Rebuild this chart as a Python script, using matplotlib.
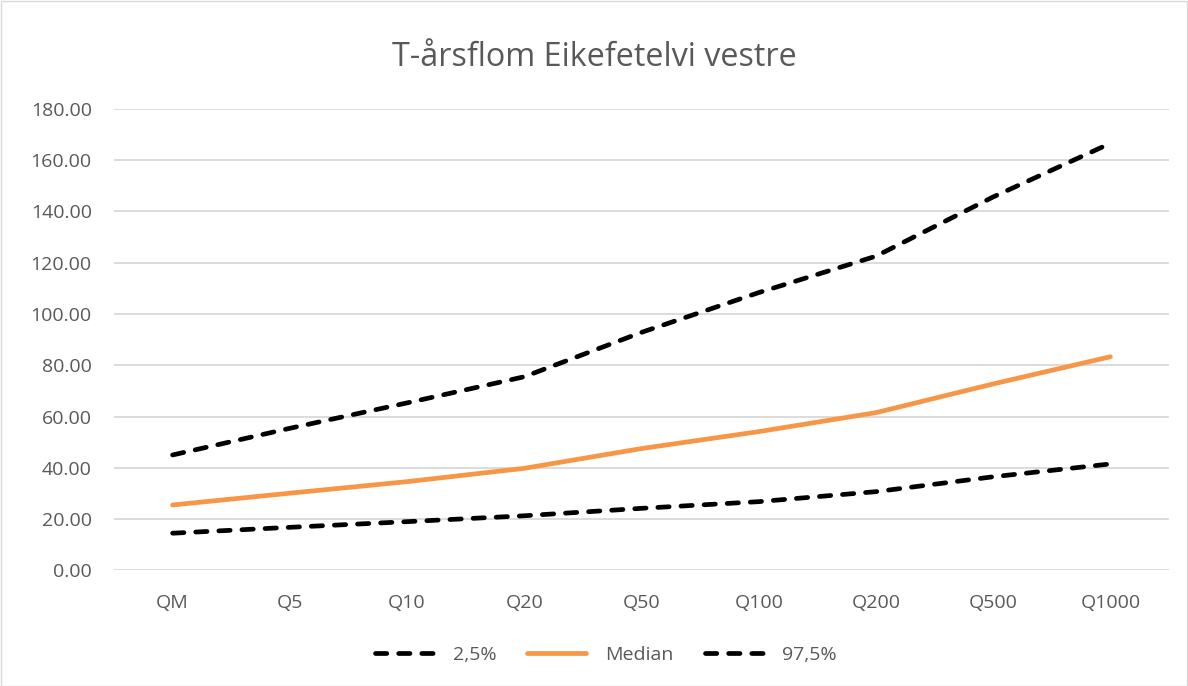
import matplotlib
matplotlib.use("Agg")
import matplotlib.pyplot as plt
from matplotlib.patches import Rectangle

categories = ["QM", "Q5", "Q10", "Q20", "Q50", "Q100", "Q200", "Q500", "Q1000"]
lower = [14.5, 16.8, 19.0, 21.3, 24.2, 26.8, 30.7, 36.5, 41.5]
median = [25.5, 30.1, 34.6, 39.8, 47.5, 54.1, 61.5, 72.7, 83.3]
upper = [45.0, 55.4, 65.3, 75.5, 92.8, 108.3, 122.5, 145.6, 166.5]

plt.rcParams["font.family"] = ["Open Sans", "DejaVu Sans"]
txt = "#595959"

fig = plt.figure(figsize=(11.88, 6.86), dpi=100)
ax = fig.add_axes([114 / 1188, 1 - 570.4 / 686, 1055 / 1188, 461.7 / 686])
x = range(len(categories))

lw = 3.4
dash = dict(dashes=(2.4, 2.5), dash_capstyle="round", solid_capstyle="round")
ax.plot(x, lower, color="black", lw=lw, label="2,5%", **dash)
ax.plot(x, median, color="#F79646", lw=lw, label="Median", solid_capstyle="round")
ax.plot(x, upper, color="black", lw=lw, label="97,5%", **dash)

ax.set_xlim(-0.5, len(categories) - 0.5)
ax.set_ylim(0, 180)
ax.set_yticks(range(0, 181, 20))
ax.set_yticklabels([f"{v:.2f}" for v in range(0, 181, 20)])
ax.set_xticks(list(x))
ax.set_xticklabels(categories)
ax.tick_params(length=0, labelsize=14, colors=txt, pad=16)
ax.tick_params(axis="x", pad=17)
ax.grid(axis="y", color="#d9d9d9", lw=1.3)
ax.set_axisbelow(True)
for s in ax.spines.values():
    s.set_visible(False)

fig.text(0.5, 1 - 57 / 686, "T-årsflom Eikefetelvi vestre", ha="center", va="center",
         fontsize=23.3, color=txt)
leg = fig.legend(loc="center", bbox_to_anchor=(0.51, 1 - 655 / 686), ncol=3, frameon=False,
                 fontsize=14, handlelength=3.0, columnspacing=1.6, handletextpad=1.0)
for t in leg.get_texts():
    t.set_color(txt)

fig.patches.append(Rectangle((0.5 / 1188, 0.5 / 686), 1 - 1.5 / 1188, 1 - 1.5 / 686,
                             transform=fig.transFigure, fill=False, edgecolor="#d9d9d9", lw=1))
fig.savefig("out.png", dpi=100)
